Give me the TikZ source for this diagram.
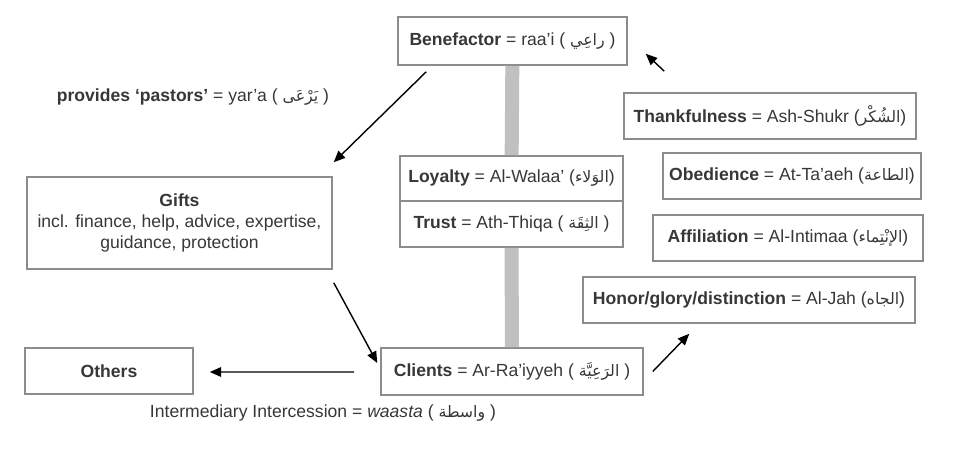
\documentclass[tikz,border=0pt]{standalone}
\usepackage{fontspec}
\setmainfont{Liberation Sans}
\newfontfamily\arabicfont[Script=Arabic,Scale=0.9]{DejaVu Sans}
\TeXXeTstate=1
\usetikzlibrary{arrows.meta,calc}
\newcommand{\arab}[1]{{\arabicfont\beginR #1\endR}}
\definecolor{boxgray}{RGB}{140,140,140}
\definecolor{bargray}{RGB}{192,192,192}
\definecolor{txtgray}{RGB}{55,55,55}

\begin{document}
\begin{tikzpicture}
[   x=0.02cm, y=-0.02cm,
    box/.style={draw=boxgray,line width=0.9pt,minimum width=#1,minimum height=0.92cm,
        inner sep=2pt,text=txtgray,align=center,font=\fontsize{10}{12}\selectfont},
    box/.default=4cm,
    txt/.style={text=txtgray,font=\fontsize{10}{12}\selectfont},
    bar/.style={draw=bargray,line width=0.28cm},
    arr/.style={-{Triangle[length=6.5pt,width=5.5pt]},line width=0.8pt},
]
    \useasboundingbox (0,0) rectangle (960,449);

    % centre column
    \node[box=4.58cm,minimum height=0.96cm] (bene) at (512.5,41)
        {\textbf{Benefactor} = raa'i ( \arab{راعِي} )};
    \node[box=4.46cm,minimum height=0.9cm] (loyal) at (511.5,178.5)
        {\textbf{Loyalty} = Al-Walaa’ (\arab{الوَلاء})};
    \node[box=4.46cm] (trust) at (511.5,224)
        {\textbf{Trust} = Ath-Thiqa ( \arab{الثِقَة} )};
    \node[box=5.24cm,minimum height=0.94cm] (clients) at (512,371.5)
        {\textbf{Clients} = Ar-Ra’iyyeh ( \arab{الرَعِيَّة} )};
    \draw[bar] (bene) -- (loyal);
    \draw[bar] (trust) -- (clients);

    % left side
    \node[box=6.1cm,minimum height=1.84cm] (gifts) at (179.5,223)
        {\textbf{Gifts}\\incl. finance, help, advice, expertise,\\guidance, protection};
    \node[box=3.36cm] (others) at (109,371) {\textbf{Others}};
    \node[txt] (pastors) at (193,97)
        {\textbf{provides ‘pastors’} = yar'a ( \arab{يَرْعَى} )};
    \node[txt] (waasta) at (323,413)
        {Intermediary Intercession = \textit{waasta} ( \arab{واسطة} )};

    % right side
    \node[box=5.84cm] (thank) at (770,116)
        {\textbf{Thankfulness} = Ash-Shukr (\arab{الشُكْر})};
    \node[box=5.16cm] (obed) at (792,176)
        {\textbf{Obedience} = At-Ta’aeh (\arab{الطاعة})};
    \node[box=5.4cm] (affil) at (788,238)
        {\textbf{Affiliation} = Al-Intimaa (\arab{الإنْتِماء})};
    \node[box=6.64cm] (honor) at (749,300)
        {\textbf{Honor/glory/distinction} = Al-Jah (\arab{الجاه})};

    % arrows
    \draw[arr] ($(bene.south west)+(29,6)$) -- ($(gifts.north east)+(1,-14)$);
    \draw[arr] ($(gifts.south east)+(1,13)$) -- ($(clients.west)+(-3,-8.5)$);
    \draw[arr] ($(clients.west)+(-26,0.5)$) -- ($(others.east)+(16,1)$);
    \draw[arr] ($(clients.east)+(9,0)$) -- ($(honor.south west)+(107,10)$);
    \draw[arr] ($(thank.north west)+(41,-21)$) -- ($(bene.south east)+(18,-12)$);
\end{tikzpicture}
\end{document}
